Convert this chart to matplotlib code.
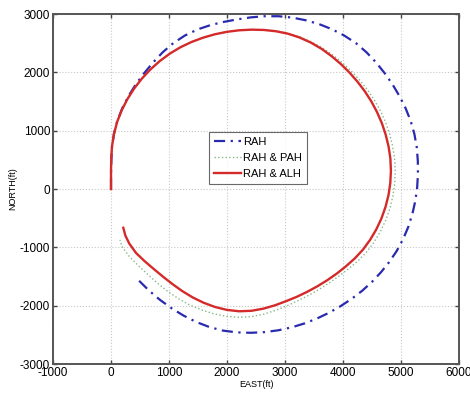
import matplotlib
matplotlib.use("Agg")
import matplotlib.pyplot as plt

# RAH (blue, dash-dot)
rah_east = [0, 0, 5, 16, 50, 111, 198, 307, 433, 576, 728, 892, 1074, 1275, 1491, 1718,
            1949, 2181, 2414, 2650, 2887, 3124, 3358, 3588, 3810, 4024, 4225, 4406, 4570,
            4718, 4854, 4974, 5080, 5167, 5231, 5272, 5290, 5292, 5278, 5246, 5195, 5125,
            5035, 4925, 4796, 4652, 4496, 4326, 4145, 3955, 3756, 3549, 3335, 3112, 2884,
            2650, 2412, 2173, 1933, 1698, 1470, 1252, 1044, 845, 657, 481, 431]
rah_north = [0, 250, 482, 714, 947, 1174, 1394, 1603, 1802, 1991, 2172, 2345, 2501, 2632,
             2735, 2811, 2866, 2909, 2943, 2962, 2962, 2939, 2893, 2827, 2739, 2629, 2499,
             2343, 2170, 1986, 1793, 1592, 1383, 1166, 942, 712, 481, 250, 20, -208, -432,
             -651, -862, -1064, -1253, -1430, -1596, -1748, -1886, -2010, -2123, -2221,
             -2305, -2372, -2422, -2453, -2465, -2458, -2428, -2367, -2280, -2171, -2044,
             -1901, -1743, -1570, -1520]

# RAH & PAH (green, dotted)
pah_east = [0, 0, 4, 17, 52, 106, 185, 284, 400, 533, 680, 840, 1012, 1196, 1389, 1588,
            1792, 2000, 2209, 2420, 2632, 2843, 3053, 3257, 3453, 3640, 3816, 3981, 4137,
            4282, 4416, 4537, 4642, 4732, 4802, 4855, 4889, 4900, 4891, 4860, 4810, 4737,
            4646, 4535, 4407, 4258, 4097, 3932, 3764, 3591, 3413, 3229, 3039, 2841, 2635,
            2420, 2200, 1981, 1764, 1554, 1350, 1157, 976, 803, 640, 478, 319, 186, 155]
pah_north = [0, 310, 521, 734, 945, 1152, 1352, 1544, 1724, 1894, 2050, 2193, 2320, 2430,
             2521, 2595, 2653, 2695, 2721, 2732, 2730, 2710, 2671, 2609, 2525, 2423, 2303,
             2171, 2027, 1873, 1708, 1532, 1346, 1151, 948, 739, 526, 310, 94, -120, -330,
             -533, -728, -911, -1081, -1233, -1367, -1492, -1609, -1718, -1819, -1912,
             -1999, -2079, -2145, -2188, -2200, -2182, -2137, -2070, -1986, -1877, -1753,
             -1617, -1470, -1320, -1161, -980, -874]

# RAH & ALH (red, solid)
alh_east = [0, 0, 4, 17, 52, 106, 185, 284, 400, 533, 680, 840, 1012, 1196, 1389, 1588,
            1792, 2000, 2209, 2420, 2632, 2842, 3050, 3252, 3446, 3629, 3800, 3960, 4109,
            4247, 4374, 4487, 4586, 4670, 4736, 4786, 4817, 4826, 4815, 4784, 4732, 4662,
            4573, 4467, 4345, 4205, 4053, 3895, 3731, 3561, 3386, 3205, 3018, 2826, 2627,
            2420, 2209, 2000, 1795, 1597, 1409, 1230, 1061, 898, 738, 578, 430, 315, 248, 212]
alh_north = [0, 310, 521, 734, 945, 1152, 1352, 1544, 1724, 1894, 2050, 2193, 2320, 2430,
             2521, 2595, 2653, 2695, 2721, 2732, 2727, 2705, 2663, 2597, 2510, 2404, 2280,
             2145, 1999, 1843, 1678, 1504, 1320, 1129, 931, 727, 520, 310, 100, -107, -310,
             -506, -694, -872, -1038, -1188, -1323, -1448, -1562, -1666, -1761, -1847,
             -1923, -1994, -2051, -2088, -2096, -2073, -2023, -1950, -1859, -1751, -1631,
             -1504, -1372, -1236, -1095, -935, -800, -665]

series_labels = ["RAH", "RAH & PAH", "RAH & ALH"]
x_ticks = [-1000, 0, 1000, 2000, 3000, 4000, 5000, 6000]
y_ticks = [-3000, -2000, -1000, 0, 1000, 2000, 3000]

plt.rcParams['font.family'] = ['Liberation Sans', 'DejaVu Sans']
plt.rcParams['axes.unicode_minus'] = False

fig = plt.figure(figsize=(4.7, 3.96), dpi=100)
ax = fig.add_axes([0.1128, 0.0808, 0.8638, 0.8838])

ax.plot(rah_east, rah_north, color='#2a2ab0', lw=1.6, ls='-.', label=series_labels[0],
        dashes=(5, 2.5, 1, 2.5))
ax.plot(pah_east, pah_north, color='#86b886', lw=1.0, ls=':', label=series_labels[1])
ax.plot(alh_east, alh_north, color='#d42a2a', lw=1.7, ls='-', label=series_labels[2])

ax.set_xlim(-1000, 6000)
ax.set_ylim(-3000, 3000)
ax.set_xticks(x_ticks)
ax.set_yticks(y_ticks)
ax.grid(True, color='#c8c8c8', ls=':', lw=0.8)
ax.tick_params(direction='in', top=True, right=True, length=3, width=1,
               labelsize=8.5, color='#444444', pad=2)
for s in ax.spines.values():
    s.set_color('#555555')
    s.set_linewidth(1.4)

ax.set_xlabel('EAST(ft)', fontsize=6.5, labelpad=1)
ax.set_ylabel('NORTH(ft)', fontsize=6.5, labelpad=2)

leg = ax.legend(loc='upper left', bbox_to_anchor=(0.384, 0.663), fontsize=8,
                frameon=True, fancybox=False, edgecolor='#444444', handlelength=2.4,
                handletextpad=0.2, borderpad=0.45, labelspacing=0.55, borderaxespad=0)
leg.get_frame().set_linewidth(0.8)

fig.savefig('out.png', dpi=100)
